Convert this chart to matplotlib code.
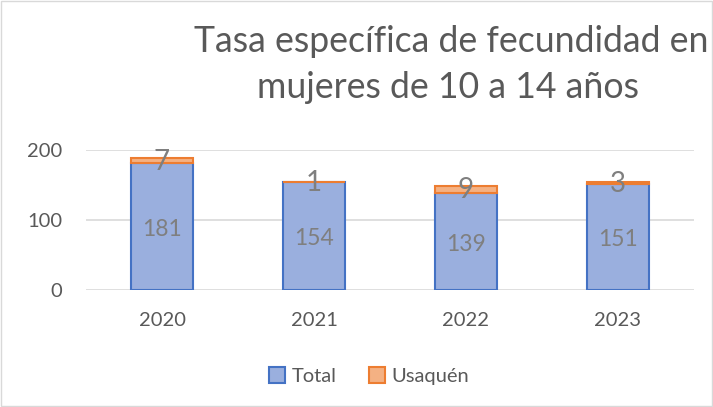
import matplotlib.pyplot as plt
import numpy as np

years = ['2020', '2021', '2022', '2023']
total = [181, 154, 139, 151]
usaquen = [7, 1, 9, 3]

plt.rcParams['font.family'] = ['Lato', 'DejaVu Sans']
grey = '#595959'

fig = plt.figure(figsize=(7.13, 4.07), dpi=100)
ax = fig.add_axes([86 / 713, 1 - 290 / 407, 608 / 713, 140 / 407])

x = np.arange(len(years))
w = 0.41
b1 = ax.bar(x, total, w, color='#9aafde', edgecolor='#4472c4', linewidth=1.5, label='Total', zorder=3)
b2 = ax.bar(x, usaquen, w, bottom=total, color='#f4b183', edgecolor='#ed7d31', linewidth=1.5,
            label='Usaquén', zorder=3)

for i in range(len(years)):
    ax.text(x[i], total[i] / 2 - 4, str(total[i]), ha='center', va='center', fontsize=16.5, color='#7f7f7f', zorder=4)
    ax.text(x[i], total[i] + usaquen[i] / 2 - 1, str(usaquen[i]), ha='center', va='center', fontsize=20,
            color='#7f7f7f', zorder=4)

ax.set_xlim(-0.5, 3.5)
ax.set_ylim(0, 200)
ax.set_yticks([0, 100, 200])
ax.set_xticks(x)
ax.set_xticklabels(years)
ax.grid(axis='y', color='#d9d9d9', linewidth=1.2, zorder=0)
for s in ax.spines.values():
    s.set_visible(False)
ax.tick_params(length=0, labelsize=14.5, colors=grey, pad=16)
ax.tick_params(axis='y', pad=17)

fig.text(451 / 713, 1 - 42 / 407, 'Tasa específica de fecundidad en', ha='center', va='center',
         fontsize=25.7, color=grey)
fig.text(448 / 713, 1 - 88 / 407, 'mujeres de 10 a 14 años', ha='center', va='center',
         fontsize=25.7, color=grey)

fig.legend(handles=[b1, b2], loc='center', bbox_to_anchor=(369 / 713, 1 - 376 / 407), ncol=2,
           frameon=False, fontsize=14.5, labelcolor=grey, handlelength=0.8, handleheight=0.8,
           columnspacing=1.6, handletextpad=0.3)

fig.patches.append(plt.Rectangle((0.002, 0.002), 0.996, 0.996, transform=fig.transFigure,
                                 fill=False, edgecolor='#d9d9d9', linewidth=1))

fig.savefig('out.png', dpi=100)
